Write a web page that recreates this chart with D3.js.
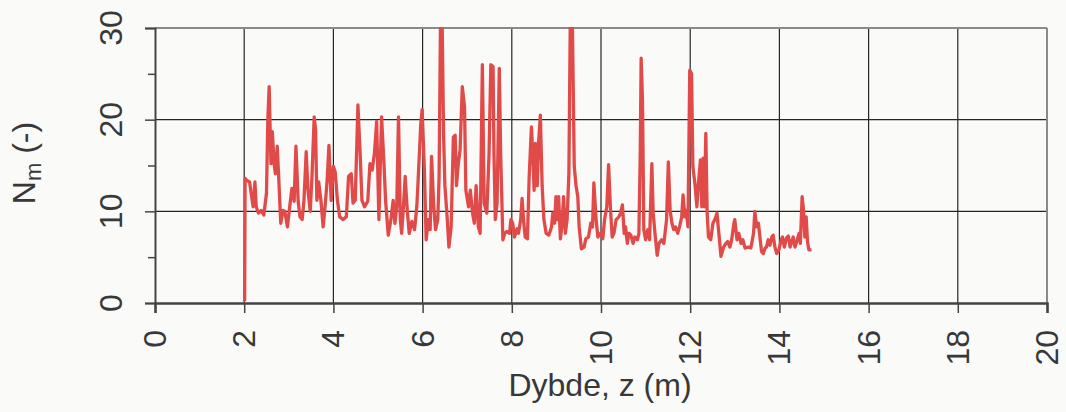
<!DOCTYPE html>
<html>
<head>
<meta charset="utf-8">
<script src="https://cdn.jsdelivr.net/npm/d3@7"></script>
<style>
  html, body { margin: 0; padding: 0; background: #fafaf8; }
  svg { display: block; }
  text { font-family: "Liberation Sans", Arial, sans-serif; fill: #383838; }
</style>
</head>
<body>
<div id="chart"></div>
<script>
// Dybde z (m) og N_m (-)
const depth = [
  2.01, 2.02, 2.05, 2.12, 2.20, 2.24, 2.27, 2.32, 2.38, 2.44, 2.50, 2.53, 2.56, 2.58, 2.60, 2.63,
  2.67, 2.70, 2.74, 2.77, 2.82, 2.87, 2.91, 2.97, 3.02, 3.07, 3.12, 3.16, 3.21, 3.25, 3.30, 3.34,
  3.39, 3.43, 3.48, 3.52, 3.57, 3.60, 3.63, 3.67, 3.72, 3.77, 3.82, 3.86, 3.90, 3.95, 4.00, 4.04,
  4.09, 4.14, 4.22, 4.29, 4.34, 4.40, 4.44, 4.49, 4.55, 4.60, 4.64, 4.70, 4.77, 4.82, 4.87, 4.92,
  4.97, 5.02, 5.08, 5.13, 5.17, 5.23, 5.29, 5.34, 5.38, 5.42, 5.46, 5.50, 5.53, 5.57, 5.61, 5.65,
  5.70, 5.76, 5.82, 5.87, 5.90, 5.96, 5.99, 6.04, 6.08, 6.13, 6.17, 6.20, 6.25, 6.29, 6.34, 6.37,
  6.40, 6.44, 6.47, 6.50, 6.55, 6.59, 6.64, 6.69, 6.73, 6.76, 6.80, 6.84, 6.89, 6.94, 6.97, 7.03,
  7.07, 7.12, 7.16, 7.20, 7.25, 7.29, 7.34, 7.38, 7.44, 7.49, 7.53, 7.58, 7.60, 7.63, 7.67, 7.72,
  7.75, 7.80, 7.84, 7.89, 7.95, 7.98, 8.02, 8.06, 8.12, 8.15, 8.20, 8.23, 8.27, 8.30, 8.35, 8.39,
  8.44, 8.47, 8.50, 8.53, 8.57, 8.60, 8.64, 8.68, 8.72, 8.77, 8.83, 8.89, 8.92, 8.96, 8.99, 9.02,
  9.05, 9.09, 9.13, 9.16, 9.20, 9.24, 9.28, 9.31, 9.36, 9.40, 9.44, 9.48, 9.51, 9.56, 9.62, 9.66,
  9.72, 9.77, 9.81, 9.84, 9.89, 9.93, 9.99, 10.04, 10.08, 10.13, 10.17, 10.21, 10.25, 10.29, 10.34, 10.40,
  10.44, 10.48, 10.52, 10.55, 10.59, 10.63, 10.67, 10.72, 10.76, 10.82, 10.85, 10.88, 10.90, 10.93, 10.96, 11.00,
  11.05, 11.09, 11.14, 11.17, 11.21, 11.26, 11.30, 11.36, 11.41, 11.47, 11.51, 11.55, 11.59, 11.63, 11.67, 11.72,
  11.76, 11.81, 11.84, 11.88, 11.91, 11.95, 11.99, 12.03, 12.06, 12.11, 12.15, 12.18, 12.23, 12.26, 12.29, 12.32,
  12.35, 12.38, 12.41, 12.46, 12.51, 12.56, 12.60, 12.65, 12.69, 12.75, 12.80, 12.84, 12.89, 12.93, 12.98, 13.00,
  13.05, 13.09, 13.14, 13.18, 13.23, 13.30, 13.36, 13.42, 13.45, 13.49, 13.53, 13.57, 13.60, 13.64, 13.68, 13.71,
  13.75, 13.79, 13.83, 13.86, 13.90, 13.94, 13.99, 14.04, 14.07, 14.11, 14.16, 14.20, 14.24, 14.28, 14.31, 14.35,
  14.40, 14.44, 14.47, 14.51, 14.54, 14.57, 14.60, 14.63, 14.66, 14.72
];
const nm = [
  0.2, 13.6, 13.4, 13.2, 10.5, 13.2, 10.5, 9.8, 10.1, 9.6, 12.0, 20.0, 23.6, 19.2, 15.2, 18.7,
  15.2, 14.1, 17.1, 14.1, 8.7, 10.1, 10.0, 8.3, 10.5, 12.5, 11.1, 17.1, 11.1, 9.4, 9.1, 11.2,
  16.5, 12.3, 10.0, 13.8, 20.3, 18.9, 11.2, 13.2, 11.2, 8.3, 10.9, 13.4, 17.2, 11.2, 14.9, 14.3,
  11.2, 9.4, 9.1, 9.4, 13.8, 14.1, 10.9, 11.2, 21.6, 16.3, 11.2, 10.5, 11.1, 15.2, 14.5, 16.3,
  19.8, 9.1, 20.3, 15.6, 11.2, 7.4, 9.1, 11.2, 8.7, 10.5, 20.3, 9.1, 7.6, 10.5, 13.8, 10.5,
  7.6, 8.9, 8.0, 10.5, 13.4, 19.6, 21.1, 14.5, 6.9, 9.1, 8.0, 16.0, 10.5, 8.0, 9.1, 13.8,
  30.0, 30.0, 18.5, 12.8, 9.4, 6.1, 8.3, 18.1, 18.3, 12.8, 15.2, 16.7, 23.6, 21.4, 12.3, 10.5,
  12.3, 9.8, 8.7, 12.8, 8.3, 7.6, 26.0, 10.9, 9.8, 16.3, 26.0, 25.8, 16.3, 9.1, 10.9, 25.6,
  16.3, 6.9, 7.6, 7.8, 7.6, 9.1, 8.7, 7.2, 8.1, 7.6, 9.1, 11.4, 8.7, 7.2, 7.0, 13.8,
  19.2, 16.3, 12.3, 17.4, 12.8, 17.4, 20.5, 12.8, 9.1, 7.6, 7.4, 8.3, 9.8, 8.7, 11.6, 9.1,
  11.6, 7.0, 8.7, 11.6, 7.6, 9.1, 14.1, 30.0, 30.0, 14.9, 12.8, 11.6, 8.3, 5.9, 6.1, 7.0,
  7.2, 8.7, 8.3, 13.1, 9.1, 7.2, 7.6, 7.0, 9.1, 10.5, 15.1, 10.5, 7.2, 7.6, 9.1, 9.4,
  9.8, 10.7, 7.6, 8.3, 6.5, 7.6, 7.4, 6.5, 7.2, 6.9, 7.6, 16.3, 26.7, 22.1, 8.0, 6.9,
  8.0, 6.9, 15.2, 9.8, 7.6, 5.2, 6.5, 6.9, 6.5, 9.1, 15.4, 10.1, 8.7, 8.0, 8.3, 7.6,
  8.3, 9.4, 11.8, 9.4, 10.1, 8.3, 25.4, 25.0, 14.9, 12.8, 10.5, 12.8, 15.6, 10.5, 15.8, 10.5,
  18.5, 9.8, 7.2, 6.9, 8.7, 9.2, 9.8, 7.2, 5.1, 6.1, 6.5, 6.7, 6.1, 6.9, 8.7, 9.1,
  6.9, 7.6, 6.5, 6.9, 6.0, 6.1, 6.0, 7.6, 10.0, 8.3, 8.7, 6.9, 5.6, 5.4, 6.0, 6.1,
  6.9, 6.3, 7.2, 7.4, 6.1, 5.4, 5.8, 6.9, 7.2, 6.1, 7.1, 7.3, 6.1, 6.7, 7.2, 6.1,
  6.9, 7.6, 6.5, 11.6, 10.2, 7.2, 9.4, 6.7, 5.8, 5.8
];
const xTicks = [0, 2, 4, 6, 8, 10, 12, 14, 16, 18, 20];
const yTicks = [0, 10, 20, 30];
const yMinorTicks = [5, 15, 25];

const W = 1066, H = 412;
const margin = { top: 28, right: 19, bottom: 109, left: 155 };
const width = W - margin.left - margin.right;
const height = H - margin.top - margin.bottom;

const svg = d3.select('#chart').append('svg')
  .attr('width', W)
  .attr('height', H);

const g = svg.append('g')
  .attr('transform', `translate(${margin.left},${margin.top})`);

const x = d3.scaleLinear().domain([0, 20]).range([0, width]);
const y = d3.scaleLinear().domain([0, 30]).range([height, 0]);

// gitterlinjer
g.append('g')
  .attr('class', 'grid-x')
  .selectAll('line')
  .data(xTicks.slice(1, -1))
  .enter().append('line')
  .attr('x1', d => x(d)).attr('x2', d => x(d))
  .attr('y1', 0).attr('y2', height)
  .attr('stroke', '#262626')
  .attr('stroke-width', 1.2);

g.append('g')
  .attr('class', 'grid-y')
  .selectAll('line')
  .data(yTicks.slice(1, -1))
  .enter().append('line')
  .attr('x1', 0).attr('x2', width)
  .attr('y1', d => y(d)).attr('y2', d => y(d))
  .attr('stroke', '#262626')
  .attr('stroke-width', 1.2);

// ramme top og højre
g.append('line')
  .attr('x1', 0).attr('x2', width).attr('y1', 0).attr('y2', 0)
  .attr('stroke', '#8a8a8a').attr('stroke-width', 2);
g.append('line')
  .attr('x1', width).attr('x2', width).attr('y1', 0).attr('y2', height)
  .attr('stroke', '#8a8a8a').attr('stroke-width', 2);

// dataserie
g.append('clipPath').attr('id', 'clip')
  .append('rect').attr('x', 0).attr('y', -1).attr('width', width).attr('height', height + 2);

const line = d3.line()
  .x((d, i) => x(depth[i]))
  .y(d => y(d));

g.append('path')
  .datum(nm)
  .attr('clip-path', 'url(#clip)')
  .attr('fill', 'none')
  .attr('stroke', '#e04a48')
  .attr('stroke-width', 3.3)
  .attr('stroke-linejoin', 'round')
  .attr('d', line);

// y-akse
const yAxis = g.append('g')
  .call(d3.axisLeft(y).tickValues(yTicks).tickSize(10).tickFormat(''));
yAxis.select('.domain').attr('stroke', '#444').attr('stroke-width', 2);
yAxis.selectAll('.tick line').attr('stroke', '#444').attr('stroke-width', 1.5);

g.append('g')
  .call(d3.axisLeft(y).tickValues(yMinorTicks).tickSize(7).tickFormat(''))
  .call(a => a.select('.domain').remove())
  .selectAll('.tick line').attr('stroke', '#444').attr('stroke-width', 1.5);

g.append('g')
  .selectAll('text')
  .data(yTicks)
  .enter().append('text')
  .attr('transform', d => `translate(-33,${y(d)}) rotate(-90)`)
  .attr('text-anchor', 'middle')
  .attr('font-size', 32)
  .text(d => d);

// x-akse
const xAxis = g.append('g')
  .attr('transform', `translate(0,${height})`)
  .call(d3.axisBottom(x).tickValues(xTicks).tickSize(10).tickFormat(''));
xAxis.select('.domain').attr('stroke', '#444').attr('stroke-width', 2.5);
xAxis.selectAll('.tick line').attr('stroke', '#444').attr('stroke-width', 1.5);

g.append('g')
  .selectAll('text')
  .data(xTicks)
  .enter().append('text')
  .attr('transform', d => `translate(${x(d) + 11},${height + 27}) rotate(-90)`)
  .attr('text-anchor', 'end')
  .attr('font-size', 32)
  .text(d => d);

// aksetitler
svg.append('text')
  .attr('x', 600)
  .attr('y', 396)
  .attr('text-anchor', 'middle')
  .attr('font-size', 32)
  .text('Dybde, z (m)');

const yTitle = svg.append('text')
  .attr('transform', 'translate(35,163) rotate(-90)')
  .attr('text-anchor', 'middle')
  .attr('font-size', 32);
yTitle.append('tspan').text('N');
yTitle.append('tspan').attr('font-size', 22).attr('dy', 6).text('m');
yTitle.append('tspan').attr('dy', -6).text(' (-)');
</script>
</body>
</html>
